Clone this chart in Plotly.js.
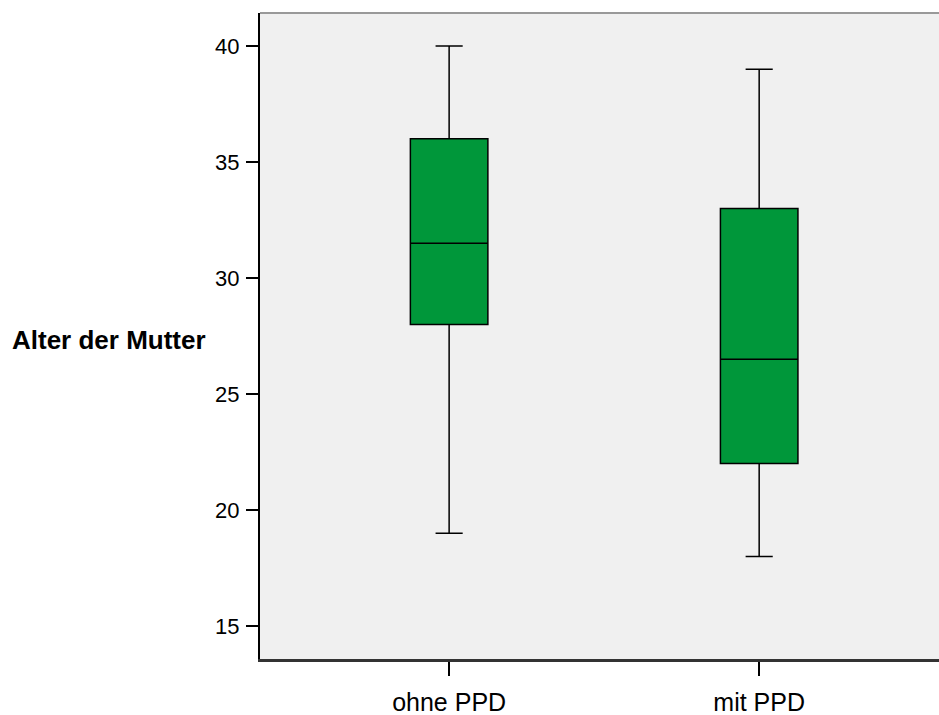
<!DOCTYPE html>
<html>
<head>
<meta charset="utf-8">
<script src="https://cdn.plot.ly/plotly-3.0.1.min.js"></script>
<style>html,body{margin:0;padding:0;background:#fff;}#chart{width:939px;height:715px;}</style>
</head>
<body>
<div id="chart"></div>
<script>
const categories = ['ohne PPD', 'mit PPD'];
const lowerWhisker = [19, 18];
const q1Values = [28, 22];
const medianValues = [31.5, 26.5];
const q3Values = [36, 33];
const upperWhisker = [40, 39];
const yTickVals = [15, 20, 25, 30, 35, 40];

const trace = {
  type: 'box',
  x: categories,
  q1: q1Values,
  median: medianValues,
  q3: q3Values,
  lowerfence: lowerWhisker,
  upperfence: upperWhisker,
  width: 0.25,
  whiskerwidth: 0.35,
  fillcolor: '#00973a',
  line: {color: '#000000', width: 1.5},
  boxpoints: false,
  hoverinfo: 'skip',
  showlegend: false
};

const layout = {
  width: 939,
  height: 715,
  margin: {l: 260, r: 0, t: 13, b: 56},
  paper_bgcolor: '#ffffff',
  plot_bgcolor: '#f0f0f0',
  font: {family: 'Liberation Sans, Arial, sans-serif', color: '#000000'},
  xaxis: {
    type: 'category',
    range: [-0.61, 1.58],
    showgrid: false,
    zeroline: false,
    showline: true,
    linecolor: '#333333',
    linewidth: 3,
    ticks: 'outside',
    ticklen: 14,
    tickwidth: 2,
    tickcolor: '#000000',
    tickfont: {size: 25, color: '#000000'},
    ticklabelstandoff: 5
  },
  yaxis: {
    range: [13.58, 41.42],
    tickvals: yTickVals,
    showgrid: false,
    zeroline: false,
    showline: true,
    linecolor: '#000000',
    linewidth: 2,
    ticks: 'outside',
    ticklen: 12,
    tickwidth: 2,
    tickcolor: '#000000',
    tickfont: {size: 22, color: '#000000'},
    ticklabelstandoff: 2
  },
  shapes: [{
    type: 'line', xref: 'paper', yref: 'paper',
    x0: 0, x1: 1, y0: 1, y1: 1,
    line: {color: '#999999', width: 2}
  }],
  annotations: [{
    text: '<b>Alter der Mutter</b>',
    xref: 'paper', yref: 'paper',
    x: -0.368, y: 0.494,
    xanchor: 'left', yanchor: 'middle',
    showarrow: false,
    font: {size: 26, color: '#000000'}
  }]
};

Plotly.newPlot('chart', [trace], layout, {displayModeBar: false, staticPlot: true});
</script>
</body>
</html>
